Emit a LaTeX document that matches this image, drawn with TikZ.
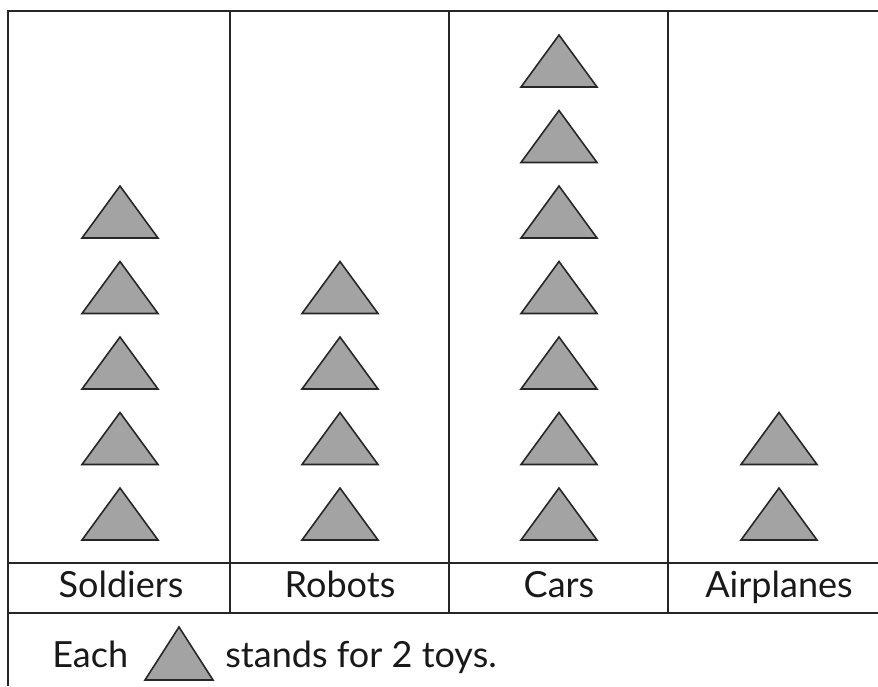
\documentclass[tikz,border=0pt]{standalone}
\usepackage{fontspec}
\setmainfont{Lato}
\usepackage{tikz}
\usetikzlibrary{calc, positioning}

\begin{document}
\begin{tikzpicture}[x=0.02cm,y=-0.02cm,line join=miter]
	\tikzset{frame/.style={line width=1.3pt, black!85},
		toy/.style={draw=black!85, fill=black!36, line width=0.9pt},
		label/.style={font=\fontsize{20.5}{24}\selectfont, text=black!90, inner sep=0pt}}
	\useasboundingbox (0,0) rectangle (878,686);
	% frame of the chart
	\draw[frame] (878,11) -- (8,11) -- (8,686);
	\draw[frame] (8,563) -- (878,563);
	\draw[frame] (8,613) -- (878,613);
	\foreach \x in {230,449,668}
		\draw[frame] (\x,11) -- (\x,613);
	% one column per toy: centre and number of triangles
	\foreach \cx/\n in {120/5, 340/4, 559/7, 779/2}
		\foreach \k in {1,...,\n}
			\draw[toy] ({\cx-38},{540-75.5*(\k-1)}) -- (\cx,{488-75.5*(\k-1)}) -- ({\cx+38},{540-75.5*(\k-1)}) -- cycle;
	\node[label, anchor=base] (soldiers) at (121,597) {Soldiers};
	\node[label, anchor=base] (robots) at (340,597) {Robots};
	\node[label, anchor=base] (cars) at (559,597) {Cars};
	\node[label, anchor=base] (airplanes) at (779,597) {Airplanes};
	% key
	\node[label, anchor=base west] (each) at (52,667) {Each};
	\draw[toy] (145,680) -- (179,627) -- (213,680) -- cycle;
	\node[label, anchor=base west] (stands) at (225,667) {stands for 2 toys.};
\end{tikzpicture}
\end{document}
